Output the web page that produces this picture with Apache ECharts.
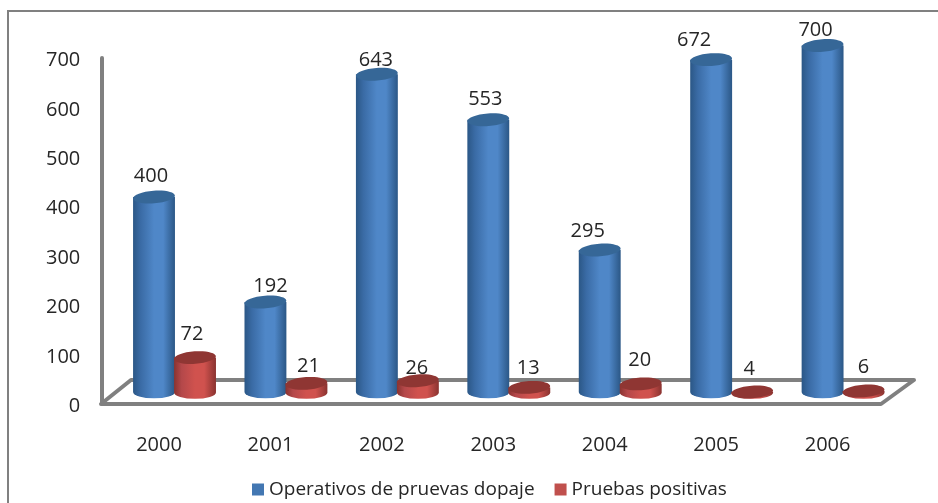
<!DOCTYPE html>
<html><head><meta charset="utf-8">
<style>html,body{margin:0;padding:0;background:#fff}#c{width:938px;height:503px}</style>
<script src="https://cdn.jsdelivr.net/npm/echarts@6/dist/echarts.min.js"></script>
</head><body><div id="c"></div>
<script>
const years = ['2000','2001','2002','2003','2004','2005','2006'];
const operativos = [400,192,643,553,295,672,700];
const positivas = [72,21,26,13,20,4,6];
const yTicks = [0,100,200,300,400,500,600,700];
const seriesNames = ['Operativos de pruevas dopaje','Pruebas positivas'];
// hand placement of the value labels relative to each cylinder top [dx, dy]
const opLabelNudge = [[-3,-21],[5,-16],[-1,-14],[-3,-20],[-12,-19],[-17,-19],[-7,-15]];
const posLabelNudge = [[-3,-23],[2,-17],[-1,-13],[-1,-19],[-1,-24],[-3,-23],[0,-24]];

const FONT = '"Open Sans", "Noto Sans", sans-serif';
const TXT = '#262626', GRAY = '#808080';

function grad(a,b,c){
  return {type:'linear',x:0,y:0,x2:1,y2:0,colorStops:[
    {offset:0,color:a},{offset:0.18,color:b},{offset:0.5,color:c},{offset:0.72,color:c},{offset:1,color:a}]};
}
function cylinder(shift, floorValue, nudge, sideColors, topColor){
  return function(params, api){
    const i = api.value(0), v = api.value(1);
    const base = api.coord([i,floorValue]);
    const top = api.coord([i,Math.max(v,floorValue)]);
    const band = api.size([1,0])[0];
    const rx = band*0.188, ry = 6.3, cx = top[0]+shift*band;
    const d = 'M'+(cx-rx)+' '+top[1]+' L'+(cx-rx)+' '+base[1]+
      ' A'+rx+' '+ry+' 0 0 0 '+(cx+rx)+' '+base[1]+' L'+(cx+rx)+' '+top[1]+' Z';
    const n = nudge[params.dataIndex];
    const topY = api.coord([i,v])[1];
    return {type:'group',children:[
      {type:'path',shape:{pathData:d,layout:'cover'},style:{fill:grad.apply(null,sideColors)}},
      {type:'ellipse',x:cx,y:top[1],originX:0,originY:0,rotation:0.07,
       shape:{cx:0,cy:0,rx:rx,ry:ry},style:{fill:topColor}},
      {type:'text',z2:10,style:{text:String(v),x:cx+n[0],y:topY+n[1],align:'center',verticalAlign:'middle',
        fontSize:20,fontFamily:FONT,fill:TXT}}
    ]};
  };
}

const chart = echarts.init(document.getElementById('c'),null,{renderer:'canvas'});
chart.setOption({
  animation:false,
  backgroundColor:'#fff',
  graphic:[
    {type:'rect',z:0,silent:true,shape:{x:8,y:11,width:1000,height:1000},style:{fill:'none',stroke:GRAY,lineWidth:2}},
    {type:'polygon',z:0,silent:true,shape:{points:[[101,404],[131,380],[914,380],[881,404]]},
     style:{fill:'none',stroke:GRAY,lineWidth:4,lineJoin:'round'}}
  ],
  legend:{data:seriesNames,left:247,top:475,icon:'rect',itemWidth:12,itemHeight:12,itemGap:20,
    textStyle:{fontFamily:FONT,fontSize:19,color:TXT,padding:[0,0,0,0]}},
  grid:[
    {left:103.3,width:780,top:58,bottom:99},
    {left:118.8,width:780,top:45.5,bottom:104}
  ],
  xAxis:[
    {type:'category',gridIndex:0,data:years,axisLine:{show:false},axisTick:{show:false},
     axisLabel:{margin:31,fontFamily:FONT,fontSize:20,color:TXT}},
    {type:'category',gridIndex:1,data:years,show:false}
  ],
  yAxis:[
    {type:'value',gridIndex:0,min:0,max:700,interval:100,offset:2,
     axisLine:{show:true,lineStyle:{color:GRAY,width:4,cap:'round'}},axisTick:{show:false},splitLine:{show:false},
     axisLabel:{margin:21,fontFamily:FONT,fontSize:20,color:TXT,verticalAlign:'top',lineHeight:5,
       formatter:function(v){return yTicks.includes(v)?String(v):'';}}},
    {type:'value',gridIndex:1,min:0,max:700,interval:100,show:false,splitLine:{show:false}},
    {type:'value',gridIndex:1,min:-10,max:690,interval:100,show:false,splitLine:{show:false}}
  ],
  series:[
    {name:seriesNames[0],type:'custom',xAxisIndex:1,yAxisIndex:1,z:3,
     itemStyle:{color:'#4377b2'},encode:{x:0,y:1},
     data:operativos.map((v,i)=>[i,v]),
     renderItem:cylinder(-0.184,14,opLabelNudge,['#2b5786','#3a6ba5','#4f87c8'],'#366797')},
    {name:seriesNames[1],type:'custom',xAxisIndex:1,yAxisIndex:2,z:4,
     itemStyle:{color:'#c0504d'},encode:{x:0,y:1},
     data:positivas.map((v,i)=>[i,v]),
     renderItem:cylinder(0.184,3,posLabelNudge,['#8a3330','#b4484a','#d0524e'],'#8f3633')}
  ]
});
</script></body></html>
